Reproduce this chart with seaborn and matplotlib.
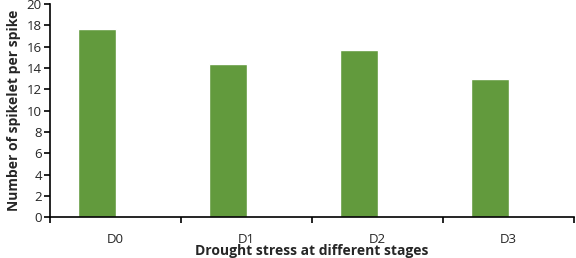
import numpy as np
import pandas as pd
import matplotlib
matplotlib.use("Agg")
import matplotlib.pyplot as plt
from matplotlib.ticker import FixedLocator
import seaborn as sns

# data
stages = ["D0", "D1", "D2", "D3"]
spikelets = [17.65, 14.35, 15.7, 13.0]
# Excel chart had a second (empty) series, which pushes bars left of centre
empty_series = [np.nan, np.nan, np.nan, np.nan]

df = pd.DataFrame({
    "stage": stages * 2,
    "value": spikelets + empty_series,
    "series": ["a"] * 4 + ["b"] * 4,
})

sns.set_theme(style="white")
plt.rcParams["font.family"] = ["Open Sans", "DejaVu Sans"]

fig, ax = plt.subplots(figsize=(5.76, 2.58), dpi=100)
fig.subplots_adjust(left=0.087, right=0.9965, top=0.984, bottom=0.158)

sns.barplot(data=df, x="stage", y="value", hue="series", order=stages,
            hue_order=["a", "b"], palette=["#629A3D", "#629A3D"],
            width=0.58, dodge=True, legend=False, ax=ax, saturation=1)

ax.set_xlim(-0.5, len(stages) - 0.5)
ax.set_ylim(0, 20)
ax.set_yticks(range(0, 21, 2))

for s in ["top", "right"]:
    ax.spines[s].set_visible(False)
for s in ["left", "bottom"]:
    ax.spines[s].set_color("black")
    ax.spines[s].set_linewidth(1.2)

ax.tick_params(axis="y", which="major", left=True, length=4, width=1.2,
               color="black", labelsize=9.5, pad=2)
ax.tick_params(axis="x", which="major", bottom=False, labelsize=9.5, pad=5)
ax.xaxis.set_minor_locator(FixedLocator(np.arange(-0.5, len(stages), 1.0)))
ax.tick_params(axis="x", which="minor", bottom=True, length=4, width=1.2,
               color="black")

ax.set_xlabel("Drought stress at different stages", fontsize=10,
              fontweight="bold", labelpad=-1)
ax.set_ylabel("Number of spikelet per spike", fontsize=10,
              fontweight="bold", labelpad=4)

fig.savefig("out.png", dpi=100)
